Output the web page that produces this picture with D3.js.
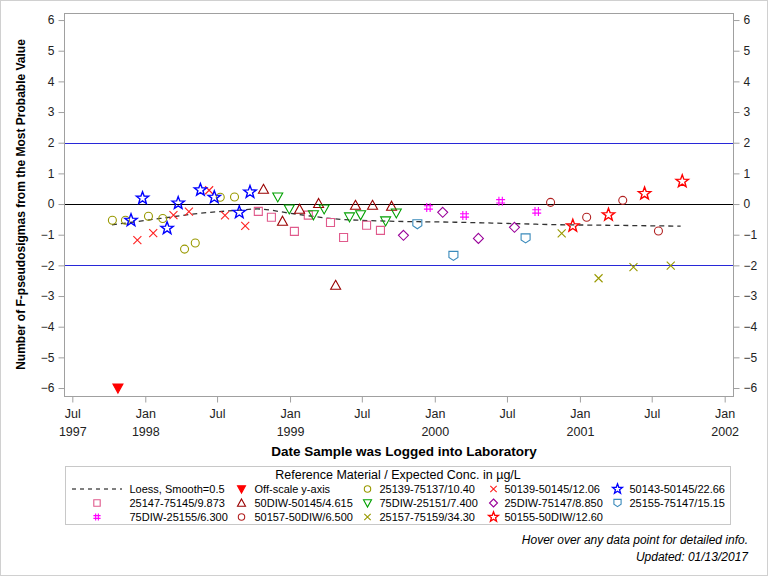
<!DOCTYPE html>
<html>
<head>
<meta charset="utf-8">
<script src="https://cdn.jsdelivr.net/npm/d3@7"></script>
<style>
body{margin:0;background:#fff;}
svg{display:block;font-family:"Liberation Sans",Arial,sans-serif;}
</style>
</head>
<body>
<svg id="c" width="768" height="576"></svg>
<script>
// ---- data (date, F-pseudosigmas) ----
const offScale   = [["1997-10-24", -6]];
const s25139     = [["1997-10-10",-0.53],["1997-11-12",-0.53],["1998-01-09",-0.40],["1998-02-14",-0.47],["1998-04-10",-1.47],["1998-05-07",-1.27],["1998-07-09",0.22],["1998-08-14",0.23]];
const s50139     = [["1997-12-12",-1.18],["1998-01-21",-0.95],["1998-03-13",-0.36],["1998-04-21",-0.25],["1998-06-11",0.45],["1998-07-21",-0.37],["1998-09-10",-0.71]];
const s50143     = [["1997-11-26",-0.53],["1997-12-25",0.19],["1998-02-25",-0.79],["1998-03-25",0.03],["1998-05-20",0.46],["1998-06-24",0.22],["1998-08-26",-0.27],["1998-09-22",0.39]];
const s25147     = [["1998-10-13",-0.24],["1998-11-15",-0.43],["1999-01-12",-0.89],["1999-02-16",-0.36],["1999-04-13",-0.60],["1999-05-16",-1.09],["1999-07-13",-0.69],["1999-08-17",-0.86]];
const s50DIW     = [["1998-10-26",0.48],["1998-12-13",-0.56],["1999-01-25",-0.17],["1999-03-14",0.02],["1999-04-26",-2.65],["1999-06-15",-0.04],["1999-07-28",-0.04],["1999-09-14",-0.07]];
const s75DIW25151= [["1998-12-01",0.23],["1998-12-30",-0.16],["1999-03-01",-0.35],["1999-03-28",-0.16],["1999-05-31",-0.42],["1999-06-28",-0.35],["1999-08-30",-0.55],["1999-09-26",-0.29]];
const s25DIW     = [["1999-10-14",-1.02],["2000-01-21",-0.27],["2000-04-20",-1.12],["2000-07-20",-0.76]];
const s25155     = [["1999-11-18",-0.66],["2000-02-17",-1.69],["2000-08-17",-1.12]];
const s75DIW25155= [["1999-12-16",-0.11],["2000-03-16",-0.37],["2000-06-15",0.09],["2000-09-14",-0.24]];
const s50157     = [["2000-10-19",0.055],["2001-01-18",-0.43],["2001-04-19",0.12],["2001-07-18",-0.88]];
const s25157     = [["2000-11-16",-0.96],["2001-02-17",-2.42],["2001-05-16",-2.06],["2001-08-18",-2.01]];
const s50155     = [["2000-12-14",-0.71],["2001-03-14",-0.35],["2001-06-13",0.34],["2001-09-16",0.74]];
const loess      = [["1997-10-09",-0.68],["1998-02-08",-0.47],["1998-05-19",-0.30],["1998-08-28",-0.20],["1998-10-10",-0.16],["1999-01-01",-0.30],["1999-02-21",-0.39],["1999-04-12",-0.47],["1999-06-27",-0.53],["1999-09-10",-0.56],["2000-02-09",-0.59],["2000-07-25",-0.64],["2000-10-19",-0.67],["2001-02-22",-0.69],["2001-09-12",-0.72]];

const yTicks = [-6,-5,-4,-3,-2,-1,0,1,2,3,4,5,6];
const xTickDates = ["1997-07-01","1998-01-01","1998-07-01","1999-01-01","1999-07-01","2000-01-01","2000-07-01","2001-01-01","2001-07-01","2002-01-01"];
const xTickLabels = [["Jul","1997"],["Jan","1998"],["Jul",""],["Jan","1999"],["Jul",""],["Jan","2000"],["Jul",""],["Jan","2001"],["Jul",""],["Jan","2002"]];
const refLines = [2, 0, -2];

// ---- styles ----
const series = [
  {name:"Off-scale y-axis",   data:offScale,    shape:"tridownfill", color:"#ff0000"},
  {name:"25139-75137/10.40",  data:s25139,      shape:"circle",  color:"#999900"},
  {name:"50139-50145/12.06",  data:s50139,      shape:"x",       color:"#ff2020"},
  {name:"50143-50145/22.66",  data:s50143,      shape:"star",    color:"#0000ff"},
  {name:"25147-75145/9.873",  data:s25147,      shape:"square",  color:"#e05a8c"},
  {name:"50DIW-50145/4.615",  data:s50DIW,      shape:"triup",   color:"#990000"},
  {name:"75DIW-25151/7.400",  data:s75DIW25151, shape:"tridown", color:"#00a000"},
  {name:"25DIW-75147/8.850",  data:s25DIW,      shape:"diamond", color:"#990099"},
  {name:"25155-75147/15.15",  data:s25155,      shape:"shield",  color:"#3a8abb"},
  {name:"75DIW-25155/6.300",  data:s75DIW25155, shape:"hash",    color:"#ff00ff"},
  {name:"50157-50DIW/6.500",  data:s50157,      shape:"circle",  color:"#b22222"},
  {name:"25157-75159/34.30",  data:s25157,      shape:"x",       color:"#999900"},
  {name:"50155-50DIW/12.60",  data:s50155,      shape:"star",    color:"#ff0000"}
];

function markerPath(shape, k){
  const s = k;
  switch(shape){
    case "circle": { const r=4*s; return `M${r},0A${r},${r} 0 1,1 ${-r},0A${r},${r} 0 1,1 ${r},0Z`; }
    case "square": return `M${-4*s},${-4*s}H${4*s}V${4*s}H${-4*s}Z`;
    case "triup": return `M0,${-5*s}L${5*s},${4*s}L${-5*s},${4*s}Z`;
    case "tridown": case "tridownfill": return `M${-5*s},${-4*s}L${5*s},${-4*s}L0,${5*s}Z`;
    case "diamond": return `M0,${-5*s}L${5*s},0L0,${5*s}L${-5*s},0Z`;
    case "x": return `M${-4*s},${-4*s}L${4*s},${4*s}M${-4*s},${4*s}L${4*s},${-4*s}`;
    case "shield": return `M${-4.5*s},${-4.5*s}H${4.5*s}V${1.5*s}L0,${4.5*s}L${-4.5*s},${1.5*s}Z`;
    case "hash": return `M${-1.7*s},${-4.5*s}V${4.5*s}M${1.7*s},${-4.5*s}V${4.5*s}M${-4.5*s},${-1.7*s}H${4.5*s}M${-4.5*s},${1.7*s}H${4.5*s}`;
    case "star": {
      const R=6.5*s, r=2.7*s; let p="";
      for(let i=0;i<10;i++){ const a=-Math.PI/2+i*Math.PI/5; const rr=i%2?r:R; p+=(i?"L":"M")+(rr*Math.cos(a)).toFixed(2)+","+(rr*Math.sin(a)).toFixed(2);} 
      return p+"Z"; }
  }
}

const svg = d3.select("#c");
const parse = d3.utcParse("%Y-%m-%d");
const X0=64, X1=733, Y0=13, Y1=396;
const x = d3.scaleUtc().domain([Date.UTC(1997,5,10), Date.UTC(2002,0,22)]).range([X0,X1]);
const y = d3.scaleLinear().domain([-6.26, 6.23]).range([Y1,Y0]);

// outer border
svg.append("rect").attr("x",0.5).attr("y",0.5).attr("width",767).attr("height",575).attr("fill","none").attr("stroke","#d0d0d0");

// frame
svg.append("rect").attr("x",X0+0.5).attr("y",Y0+0.5).attr("width",X1-X0).attr("height",Y1-Y0).attr("fill","#fff").attr("stroke","#a0a0a0");

// axes
const axisStyle = g => { g.select(".domain").remove(); g.selectAll(".tick line").attr("stroke","#a0a0a0"); g.selectAll("text").attr("fill","#222").style("font-size","12px").style("font-family","'Liberation Sans',Arial,sans-serif"); };
svg.append("g").attr("transform",`translate(${X0+0.5},0)`).call(d3.axisLeft(y).tickValues(yTicks).tickSize(6).tickPadding(4).tickFormat(d3.format("d"))).call(axisStyle);
svg.append("g").attr("transform",`translate(${X1+0.5},0)`).call(d3.axisRight(y).tickValues(yTicks).tickSize(6).tickPadding(4).tickFormat(d3.format("d"))).call(axisStyle);
const xa = svg.append("g").attr("transform",`translate(0,${Y1+0.5})`).call(d3.axisBottom(x).tickValues(xTickDates.map(parse)).tickSize(6).tickFormat("")).call(axisStyle);
xa.selectAll(".tick").each(function(d,i){
  const t = d3.select(this).append("text").attr("fill","#222").style("font-size","12.5px").attr("text-anchor","middle");
  t.append("tspan").attr("x",0).attr("y",21).text(xTickLabels[i][0]);
  t.append("tspan").attr("x",0).attr("y",39).text(xTickLabels[i][1]);
});

// titles
svg.append("text").attr("x",404).attr("y",456).attr("text-anchor","middle").style("font-size","13.5px").style("font-weight","bold").attr("fill","#000").text("Date Sample was Logged into Laboratory");
svg.append("text").attr("transform",`translate(25,${(Y0+Y1)/2}) rotate(-90)`).attr("text-anchor","middle").style("font-size","12px").style("font-weight","bold").attr("fill","#000").text("Number of F-pseudosigmas from the Most Probable Value");

// reference lines
svg.append("g").selectAll("line").data(refLines).join("line")
  .attr("x1",X0+1).attr("x2",X1).attr("y1",d=>Math.round(y(d))+0.5).attr("y2",d=>Math.round(y(d))+0.5)
  .attr("stroke",d=>d===0?"#000":"#2828d8").attr("stroke-width",1.2);

// loess
const line = d3.line().x(d=>x(parse(d[0]))).y(d=>y(d[1])).curve(d3.curveMonotoneX);
svg.append("path").datum(loess).attr("d",line).attr("fill","none").attr("stroke","#333").attr("stroke-width",1.3).attr("stroke-dasharray","5,4");

// markers
series.forEach(s=>{
  const g = svg.append("g");
  g.selectAll("path").data(s.data).join("path")
    .attr("transform",d=>`translate(${x(parse(d[0]))},${y(d[1])})`)
    .attr("d",markerPath(s.shape,1))
    .attr("fill",s.shape==="tridownfill"?s.color:"none")
    .attr("stroke",s.color).attr("stroke-width",s.shape==="star"?1.4:1.1)
    .append("title").text(d=>`${s.name}\n${d[0]}: ${d[1]}`);
});

// legend
const lg = svg.append("g");
lg.append("rect").attr("x",65.5).attr("y",466.5).attr("width",665).attr("height",58).attr("fill","none").attr("stroke","#c8c8c8");
lg.append("text").attr("x",398).attr("y",479).attr("text-anchor","middle").style("font-size","12.5px").attr("fill","#000").text("Reference Material / Expected Conc. in µg/L");
const colSym = [97, 241.5, 367.5, 493.5, 617.5];
const colTxt = [129.5, 254.5, 379.5, 504.5, 629.5];
const rowY = [489, 503, 517];
const legendSeq = [{name:"Loess, Smooth=0.5", loess:true}].concat(series);
legendSeq.forEach((it,i)=>{
  const c=i%5, r=Math.floor(i/5);
  const cy=rowY[r];
  if(it.loess){
    lg.append("line").attr("x1",72).attr("x2",122).attr("y1",cy).attr("y2",cy).attr("stroke","#000").attr("stroke-width",1).attr("stroke-dasharray","4,4");
  } else {
    lg.append("path").attr("transform",`translate(${colSym[c]},${cy})`).attr("d",markerPath(it.shape,0.8))
      .attr("fill",it.shape==="tridownfill"?it.color:"none").attr("stroke",it.color).attr("stroke-width",it.shape==="star"?1.3:1.1);
  }
  lg.append("text").attr("x",colTxt[c]).attr("y",cy+4).style("font-size","11px").attr("fill","#000").text(it.name);
});

// footnotes
svg.append("text").attr("x",748).attr("y",544).attr("text-anchor","end").style("font-size","12px").style("font-style","italic").attr("fill","#000").text("Hover over any data point for detailed info.");
svg.append("text").attr("x",748).attr("y",561).attr("text-anchor","end").style("font-size","12px").style("font-style","italic").attr("fill","#000").text("Updated: 01/13/2017");
</script>
</body>
</html>
